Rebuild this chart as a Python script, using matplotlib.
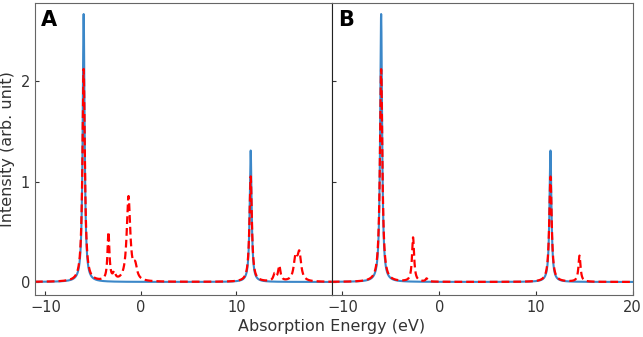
import numpy as np
from matplotlib import pyplot as plt

# peak lists: position (eV), height, half width
blue_pos = [-6.0, 11.5]
blue_height = [2.67, 1.31]
blue_width = [0.12, 0.12]

red_a_pos = [-6.0, -3.4, -2.8, -1.3, -0.6, 11.5, 14.0, 14.5, 16.2, 16.6]
red_a_height = [2.12, 0.48, 0.07, 0.84, 0.13, 1.05, 0.07, 0.15, 0.22, 0.26]
red_a_width = [0.15, 0.12, 0.15, 0.22, 0.22, 0.15, 0.15, 0.15, 0.22, 0.22]

red_b_pos = [-6.0, -2.7, -1.3, 11.5, 14.5]
red_b_height = [2.12, 0.44, 0.03, 1.05, 0.26]
red_b_width = [0.15, 0.13, 0.12, 0.15, 0.13]

panel_labels = ["A", "B"]
x_ticks = [-10, 0, 10, 20]
y_ticks = [0, 1, 2]


def spectrum(x, pos, height, width):
    y = np.zeros_like(x)
    for p, h, w in zip(pos, height, width):
        y += h * w**2 / ((x - p)**2 + w**2)
    return y


x = np.linspace(-11.1, 20, 6000)
fig = plt.figure(figsize=(6.43, 3.37), dpi=100)
ax1 = fig.add_axes([0.0544, 0.1246, 0.4616, 0.8665])
ax2 = fig.add_axes([0.516, 0.1246, 0.468, 0.8665])

reds = [(red_a_pos, red_a_height, red_a_width), (red_b_pos, red_b_height, red_b_width)]
for ax, lab, red in zip([ax1, ax2], panel_labels, reds):
    ax.plot(x, spectrum(x, blue_pos, blue_height, blue_width), color='#3b87c8', lw=1.5)
    ax.plot(x, spectrum(x, *red), color='red', ls='--', lw=1.6, dashes=(3.5, 1.8))
    ax.set_xlim(-11.1, 20)
    ax.set_ylim(-0.13, 2.78)
    ax.set_xticks(x_ticks)
    ax.set_yticks(y_ticks)
    ax.tick_params(direction='in', labelsize=10.5, colors='#333333', length=3)
    for s in ax.spines.values():
        s.set_color('#666666')
    ax.text(0.02, 0.975, lab, transform=ax.transAxes, fontsize=15,
            fontweight='bold', va='top', ha='left')

ax1.set_xticks([-10, 0, 10])
ax1.set_ylabel("Intensity (arb. unit)", fontsize=11.5, color='#333333')
ax2.set_yticklabels([])
ax2.spines['left'].set_color('#222222')
fig.text(0.516, 0.01, "Absorption Energy (eV)", ha='center', va='bottom',
         fontsize=11.5, color='#333333')

plt.savefig("out.png", dpi=100)
